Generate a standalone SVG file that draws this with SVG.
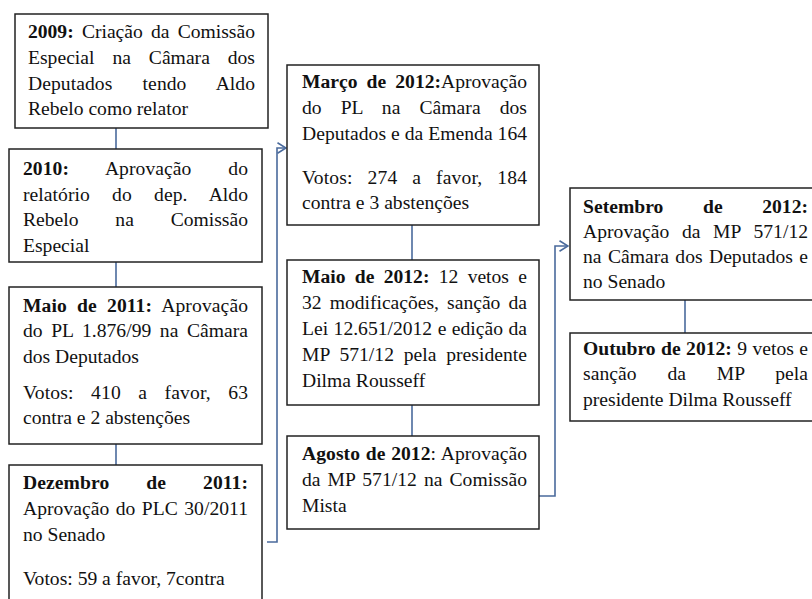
<svg xmlns="http://www.w3.org/2000/svg" width="812" height="599" viewBox="0 0 812 599">
<defs>
<style>
.box{fill:#fff;stroke:#222;stroke-width:1.5}
.t{font-family:'Liberation Serif','Times New Roman',Times,serif;font-size:19.6px;fill:#111}
.b{font-weight:bold}
.c{fill:none;stroke:#4a6a9c;stroke-width:1.6}
</style>
<marker id="arr" viewBox="0 0 10 12" refX="9.5" refY="6" markerWidth="10" markerHeight="12" markerUnits="userSpaceOnUse" orient="auto">
<path d="M1,0.8 L9.5,6 L1,11.2" fill="none" stroke="#4a6a9c" stroke-width="1.6"/>
</marker>
</defs>
<rect width="812" height="599" fill="#fff"/>
<g id="connectors">
<line class="c" x1="116" y1="128" x2="116" y2="149"/>
<line class="c" x1="116" y1="262" x2="116" y2="287"/>
<line class="c" x1="116" y1="444" x2="116" y2="465"/>
<polyline class="c" points="267,542 277,542 277,148 286,148" marker-end="url(#arr)"/>
<line class="c" x1="412" y1="225" x2="412" y2="260"/>
<line class="c" x1="412" y1="405" x2="412" y2="436"/>
<polyline class="c" points="539,496 555,496 555,246 568,246" marker-end="url(#arr)"/>
<line class="c" x1="685" y1="300" x2="685" y2="333"/>
</g>
<g id="n2009">
<rect class="box" x="15" y="14" width="253" height="114"/>
<text class="t" x="28" y="38" textLength="227" lengthAdjust="spacing" style="word-spacing:3.3px"><tspan class="b">2009:</tspan> Criação da Comissão</text>
<text class="t" x="28" y="64" textLength="227" lengthAdjust="spacing" style="word-spacing:13px">Especial na Câmara dos</text>
<text class="t" x="28" y="90" textLength="227" lengthAdjust="spacing" style="word-spacing:25.3px">Deputados tendo Aldo</text>
<text class="t" x="28" y="115">Rebelo como relator</text>
</g>
<g id="n2010">
<rect class="box" x="9" y="149" width="253" height="113"/>
<text class="t" x="23" y="175" textLength="225" lengthAdjust="spacing" style="word-spacing:32px"><tspan class="b">2010:</tspan> Aprovação do</text>
<text class="t" x="23" y="200.5" textLength="225" lengthAdjust="spacing" style="word-spacing:17.3px">relatório do dep. Aldo</text>
<text class="t" x="23" y="226" textLength="225" lengthAdjust="spacing" style="word-spacing:31.9px">Rebelo na Comissão</text>
<text class="t" x="23" y="251.5">Especial</text>
</g>
<g id="n2011maio">
<rect class="box" x="9" y="287" width="253" height="157"/>
<text class="t" x="23" y="311.5" textLength="225" lengthAdjust="spacing" style="word-spacing:5.1px"><tspan class="b">Maio de 2011:</tspan> Aprovação</text>
<text class="t" x="23" y="337" textLength="225" lengthAdjust="spacing" style="word-spacing:3.6px">do PL 1.876/99 na Câmara</text>
<text class="t" x="23" y="362.5">dos Deputados</text>
<text class="t" x="23" y="398.5" textLength="225" lengthAdjust="spacing" style="word-spacing:12.3px">Votos: 410 a favor, 63</text>
<text class="t" x="23" y="424">contra e 2 abstenções</text>
</g>
<g id="n2011dez">
<rect class="box" x="9" y="465" width="253" height="150"/>
<text class="t b" x="23" y="489" textLength="225" lengthAdjust="spacing" style="word-spacing:32px">Dezembro de 2011:</text>
<text class="t" x="23" y="515" textLength="225" lengthAdjust="spacing" style="word-spacing:1.5px">Aprovação do PLC 30/2011</text>
<text class="t" x="23" y="541">no Senado</text>
<text class="t" x="23" y="585">Votos: 59 a favor, 7contra</text>
</g>
<g id="n2012marco">
<rect class="box" x="287" y="65" width="252" height="160"/>
<text class="t" x="302" y="88" textLength="225" lengthAdjust="spacing" style="word-spacing:4.2px"><tspan class="b">Março de 2012:</tspan>Aprovação</text>
<text class="t" x="302" y="114" textLength="225" lengthAdjust="spacing" style="word-spacing:14px">do PL na Câmara dos</text>
<text class="t" x="302" y="140" textLength="225" lengthAdjust="spacing">Deputados e da Emenda 164</text>
<text class="t" x="302" y="184" textLength="225" lengthAdjust="spacing" style="word-spacing:9.8px">Votos: 274 a favor, 184</text>
<text class="t" x="302" y="208.5">contra e 3 abstenções</text>
</g>
<g id="n2012maio">
<rect class="box" x="287" y="260" width="252" height="145"/>
<text class="t" x="302" y="283" textLength="225" lengthAdjust="spacing" style="word-spacing:4.4px"><tspan class="b">Maio de 2012:</tspan> 12 vetos e</text>
<text class="t" x="302" y="309" textLength="225" lengthAdjust="spacing" style="word-spacing:3.2px">32 modificações, sanção da</text>
<text class="t" x="302" y="335" textLength="225" lengthAdjust="spacing" style="word-spacing:0.6px">Lei 12.651/2012 e edição da</text>
<text class="t" x="302" y="361" textLength="225" lengthAdjust="spacing" style="word-spacing:4.8px">MP 571/12 pela presidente</text>
<text class="t" x="302" y="387">Dilma Rousseff</text>
</g>
<g id="n2012agosto">
<rect class="box" x="287" y="436" width="252" height="93"/>
<text class="t" x="302" y="460" textLength="225" lengthAdjust="spacing" style="word-spacing:0.8px"><tspan class="b">Agosto de 2012</tspan>: Aprovação</text>
<text class="t" x="302" y="486" textLength="225" lengthAdjust="spacing" style="word-spacing:2.1px">da MP 571/12 na Comissão</text>
<text class="t" x="302" y="512">Mista</text>
</g>
<g id="n2012setembro">
<rect class="box" x="570" y="188" width="260" height="112"/>
<text class="t b" x="583" y="213" textLength="225" lengthAdjust="spacing" style="word-spacing:34.6px">Setembro de 2012:</text>
<text class="t" x="583" y="238" textLength="225" lengthAdjust="spacing" style="word-spacing:7.7px">Aprovação da MP 571/12</text>
<text class="t" x="583" y="263" textLength="225" lengthAdjust="spacing" style="word-spacing:1.5px">na Câmara dos Deputados e</text>
<text class="t" x="583" y="288">no Senado</text>
</g>
<g id="n2012outubro">
<rect class="box" x="570" y="333" width="260" height="88"/>
<text class="t" x="583" y="355" textLength="225" lengthAdjust="spacing" style="word-spacing:0.5px"><tspan class="b">Outubro de 2012:</tspan> 9 vetos e</text>
<text class="t" x="583" y="380" textLength="225" lengthAdjust="spacing" style="word-spacing:25.8px">sanção da MP pela</text>
<text class="t" x="583" y="406">presidente Dilma Rousseff</text>
</g>
</svg>
